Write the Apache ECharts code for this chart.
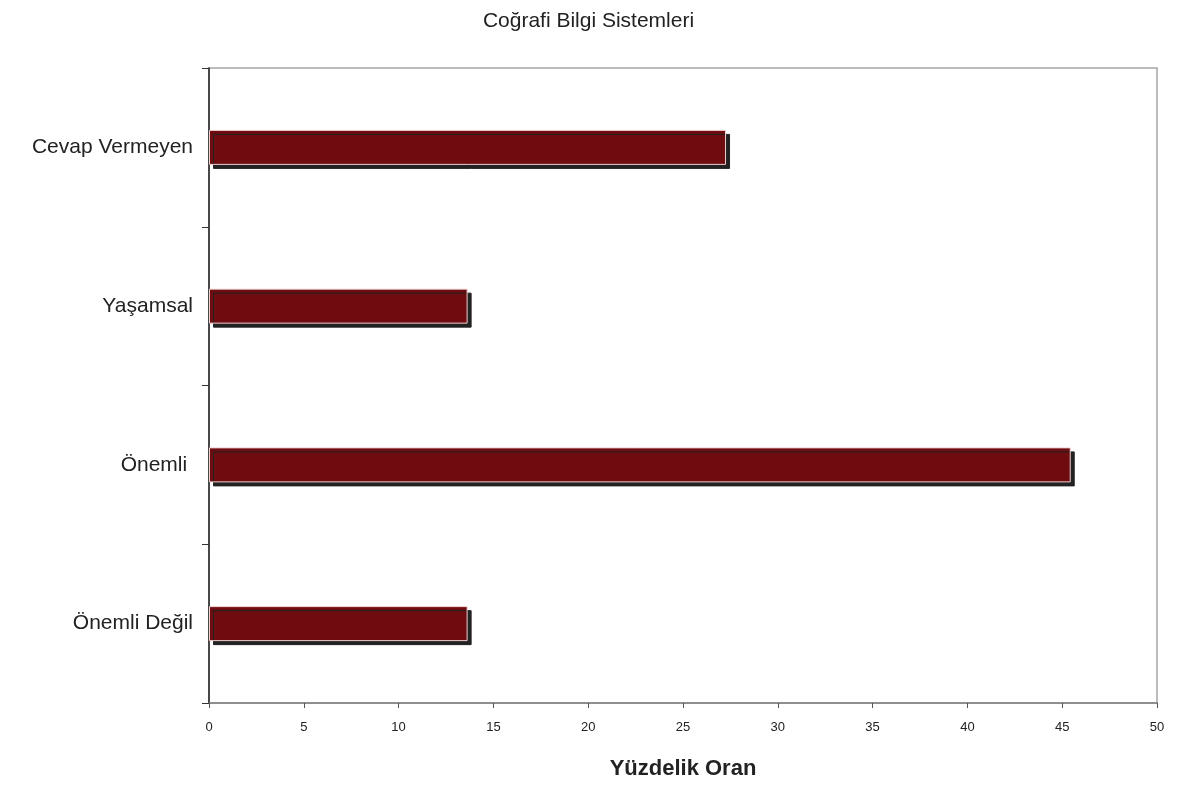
<!DOCTYPE html>
<html><head><meta charset="utf-8">
<script src="https://cdn.jsdelivr.net/npm/echarts@6/dist/echarts.min.js"></script>
<style>html,body{margin:0;padding:0;background:#fff}#c{width:1177px;height:785px}</style>
</head><body><div id="c"></div>
<script>
const categories = ['Önemli Değil', 'Önemli ', 'Yaşamsal', 'Cevap Vermeyen'];
const values = [13.64, 45.45, 13.64, 27.27];
const xTicks = [0, 5, 10, 15, 20, 25, 30, 35, 40, 45, 50];

const chart = echarts.init(document.getElementById('c'), null, {renderer: 'canvas'});
chart.setOption({
  animation: false,
  backgroundColor: '#fff',
  textStyle: {fontFamily: 'Liberation Sans, Arial, sans-serif'},
  title: {
    text: 'Coğrafi Bilgi Sistemleri', left: 'center', top: 6,
    textStyle: {fontSize: 21, fontWeight: 'normal', color: '#222', fontFamily: 'Liberation Sans, Arial, sans-serif'}
  },
  grid: {left: 209, right: 20, top: 68, bottom: 82, containLabel: false, outerBoundsMode: 'none',
         show: true, borderColor: '#a6a6a6', borderWidth: 1.5, backgroundColor: 'transparent'},
  xAxis: {
    type: 'value', min: xTicks[0], max: xTicks[xTicks.length - 1], interval: 5,
    name: 'Yüzdelik Oran', nameLocation: 'middle', nameGap: 55,
    nameTextStyle: {fontSize: 22, fontWeight: 'bold', color: '#222'},
    axisLine: {show: true, lineStyle: {color: '#808080', width: 1.5}},
    axisTick: {show: true, length: 5, lineStyle: {color: '#555'}},
    axisLabel: {fontSize: 13, color: '#222', margin: 18},
    splitLine: {show: false}
  },
  yAxis: {
    type: 'category', data: categories,
    axisLine: {show: true, lineStyle: {color: '#222', width: 1.5}},
    axisTick: {show: true, length: 7, alignWithLabel: false, lineStyle: {color: '#333'}},
    axisLabel: {fontSize: 21, color: '#222', margin: 16},
    splitLine: {show: false}
  },
  series: [{
    type: 'bar', data: values, barWidth: 35,
    itemStyle: {
      color: '#6e0c10', borderColor: '#f0d0d0', borderWidth: 1,
      shadowColor: '#222', shadowOffsetX: 4, shadowOffsetY: 4, shadowBlur: 0
    }
  }]
});
</script></body></html>
